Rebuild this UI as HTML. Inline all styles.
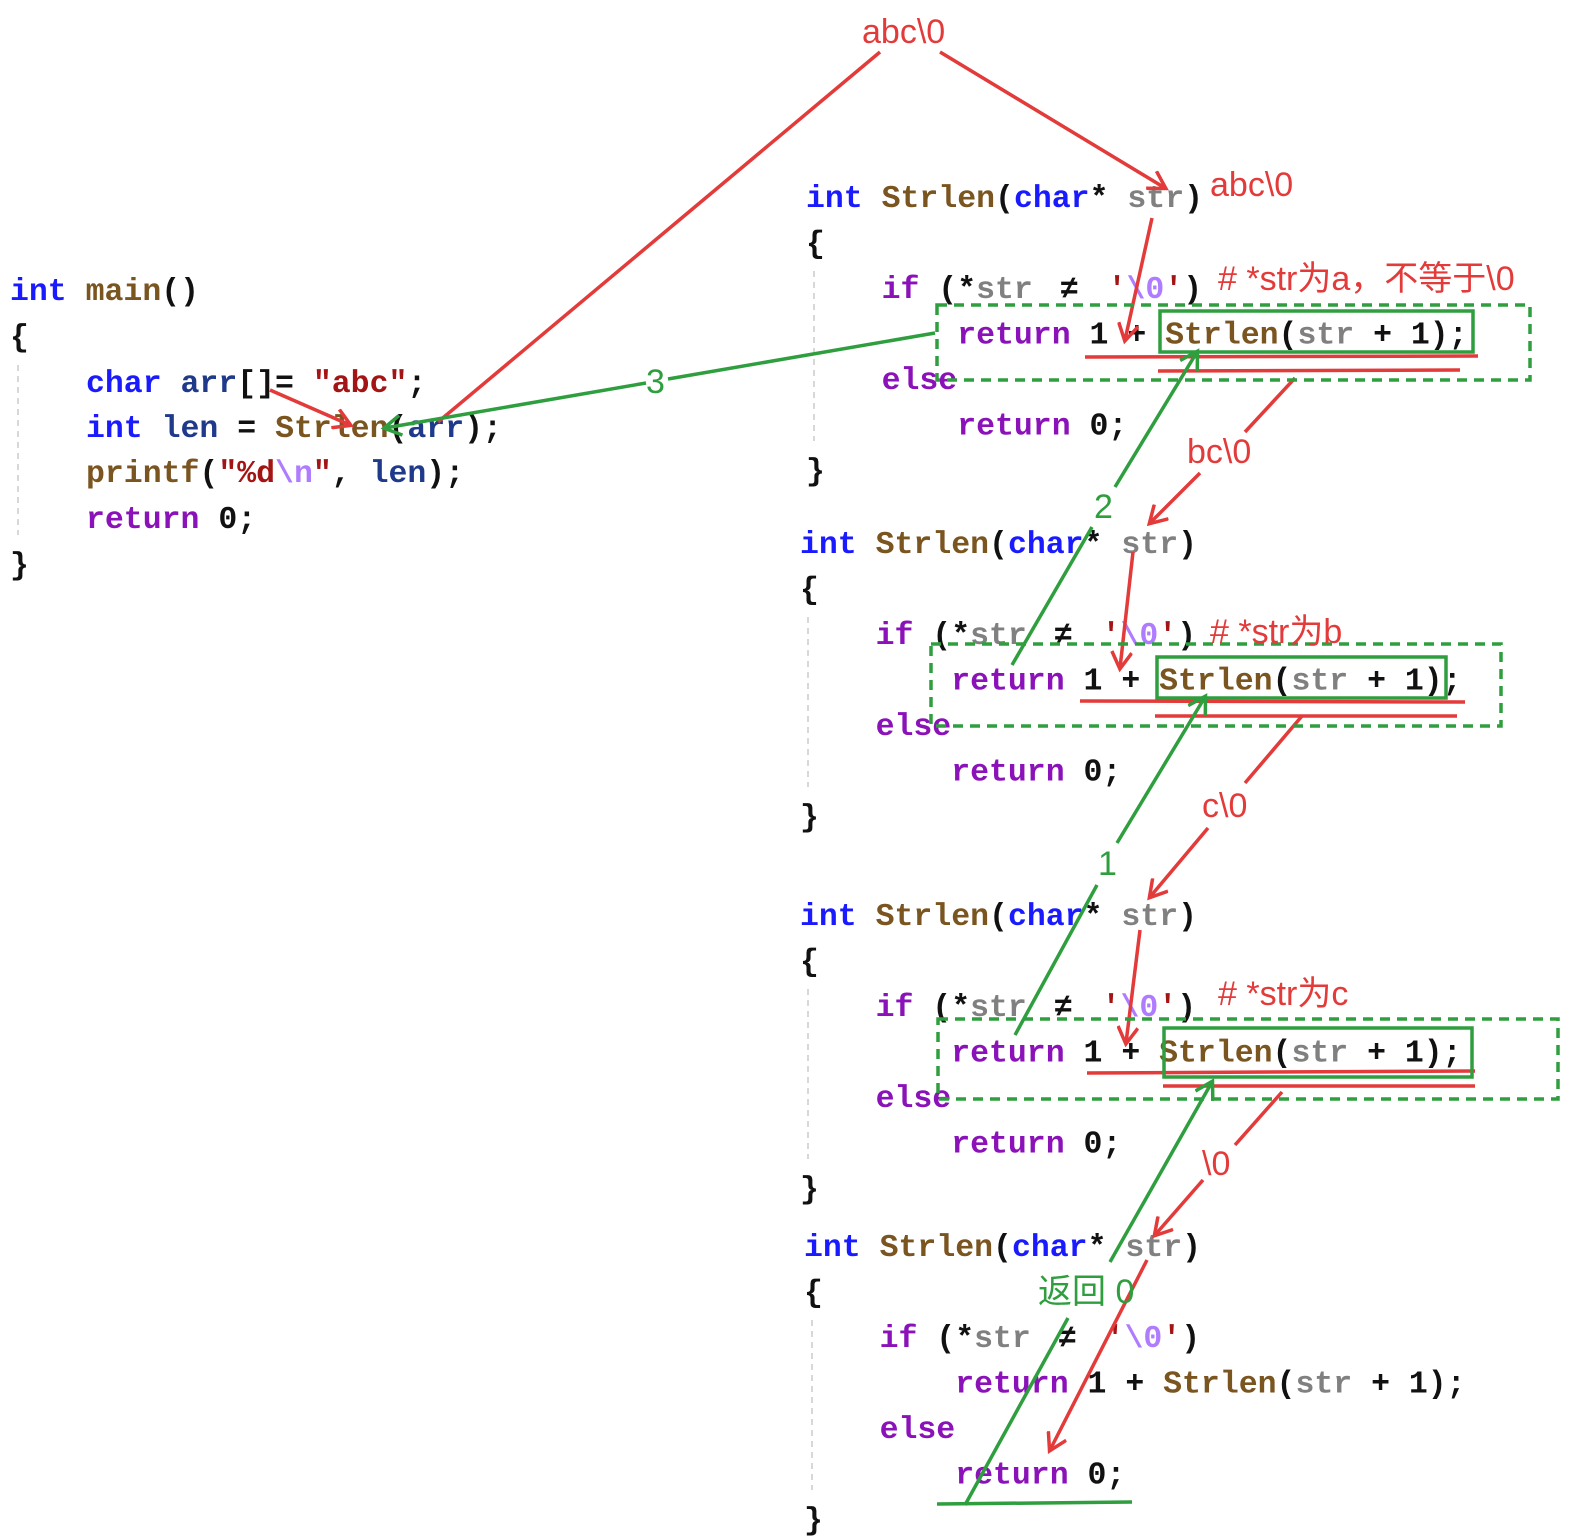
<!DOCTYPE html>
<html><head><meta charset="utf-8"><style>
html,body{margin:0;padding:0;background:#fff}
svg{display:block}
.c{font-family:"Liberation Mono",monospace;font-size:31.5px;font-weight:bold;fill:#111}
.k{fill:#1a1aff}.f{fill:#7a5520}.p{fill:#808080}.r{fill:#8a12b8}.s{fill:#a31515}.v{fill:#1f3a8a}.e{fill:#b07cff}
.a{font-family:"Liberation Sans","Noto Sans CJK SC",sans-serif;font-size:34px}
.red{fill:#e33a3a}.grn{fill:#2e9e3e}
</style></head><body>
<svg width="1569" height="1540" viewBox="0 0 1569 1540" xmlns="http://www.w3.org/2000/svg">
<defs>
<g id="blk">
  <text class="c" xml:space="preserve" x="0" y="11"><tspan class="k">int</tspan> <tspan class="f">Strlen</tspan>(<tspan class="k">char</tspan>* <tspan class="p">str</tspan>)</text>
  <text class="c" x="0" y="56.5">{</text>
  <text class="c" xml:space="preserve" x="75.6" y="102"><tspan class="r">if</tspan> (*<tspan class="p">str</tspan> <tspan dx="8">≠</tspan><tspan dx="10"> </tspan><tspan class="s">'</tspan><tspan class="e">\0</tspan><tspan class="s">'</tspan>)</text>
  <text class="c" xml:space="preserve" x="151.2" y="147.5"><tspan class="r">return</tspan> 1 + <tspan class="f">Strlen</tspan>(<tspan class="p">str</tspan> + 1);</text>
  <text class="c r" x="75.6" y="193">else</text>
  <text class="c" xml:space="preserve" x="151.2" y="238.5"><tspan class="r">return</tspan> 0;</text>
  <text class="c" x="0" y="284">}</text>
  <line x1="8" y1="75" x2="8" y2="245" stroke="#ccc" stroke-width="1.5" stroke-dasharray="6,5"/>
</g>
<marker id="ar" markerWidth="22" markerHeight="22" refX="17" refY="11" orient="auto" markerUnits="userSpaceOnUse"><path d="M1,1 L18,11 L1,21" fill="none" stroke="#e33a3a" stroke-width="3.5"/></marker>
<marker id="ag" markerWidth="22" markerHeight="22" refX="17" refY="11" orient="auto" markerUnits="userSpaceOnUse"><path d="M1,1 L18,11 L1,21" fill="none" stroke="#2e9e3e" stroke-width="3.5"/></marker>
</defs>

<!-- main -->
<text class="c" xml:space="preserve" x="10" y="300"><tspan class="k">int</tspan> <tspan class="f">main</tspan>()</text>
<text class="c" x="10" y="346">{</text>
<text class="c" xml:space="preserve" x="86" y="392"><tspan class="k">char</tspan> <tspan class="v">arr</tspan>[]= <tspan class="s">"abc"</tspan>;</text>
<text class="c" xml:space="preserve" x="86" y="437"><tspan class="k">int</tspan> <tspan class="v">len</tspan> = <tspan class="f">Strlen</tspan>(<tspan class="v">arr</tspan>);</text>
<text class="c" xml:space="preserve" x="86" y="482"><tspan class="f">printf</tspan>(<tspan class="s">"%d</tspan><tspan class="e">\n</tspan><tspan class="s">"</tspan>, <tspan class="v">len</tspan>);</text>
<text class="c" xml:space="preserve" x="86" y="528"><tspan class="r">return</tspan> 0;</text>
<text class="c" x="10" y="574">}</text>
<line x1="18" y1="365" x2="18" y2="535" stroke="#ccc" stroke-width="1.5" stroke-dasharray="6,5"/>

<use href="#blk" x="806" y="196"/>
<use href="#blk" x="800" y="542"/>
<use href="#blk" x="800" y="914"/>
<use href="#blk" x="804" y="1245"/>

<g stroke="#e33a3a" stroke-width="3.5" fill="none">
<line x1="880" y1="52" x2="438" y2="422"/>
<line x1="940" y1="52" x2="1165" y2="188" marker-end="url(#ar)"/>
<line x1="1152" y1="218" x2="1125" y2="340" marker-end="url(#ar)"/>
<line x1="270" y1="390" x2="350" y2="425" marker-end="url(#ar)"/>
<line x1="1085" y1="357" x2="1478" y2="356"/>
<line x1="1158" y1="371" x2="1460" y2="370"/>
<line x1="1295" y1="378" x2="1245" y2="432"/>
<line x1="1200" y1="473" x2="1150" y2="523" marker-end="url(#ar)"/>
<line x1="1133" y1="552" x2="1120" y2="668" marker-end="url(#ar)"/>
<line x1="1080" y1="701" x2="1465" y2="702"/>
<line x1="1155" y1="716" x2="1457" y2="716"/>
<line x1="1302" y1="716" x2="1245" y2="783"/>
<line x1="1208" y1="828" x2="1150" y2="897" marker-end="url(#ar)"/>
<line x1="1140" y1="930" x2="1126" y2="1043" marker-end="url(#ar)"/>
<line x1="1087" y1="1073" x2="1475" y2="1071"/>
<line x1="1163" y1="1086" x2="1475" y2="1086"/>
<line x1="1282" y1="1092" x2="1235" y2="1145"/>
<line x1="1203" y1="1180" x2="1155" y2="1235" marker-end="url(#ar)"/>
<line x1="1147" y1="1260" x2="1050" y2="1450" marker-end="url(#ar)"/>
</g>
<g stroke="#2e9e3e" stroke-width="3.5" fill="none">
<line x1="935" y1="333" x2="668" y2="379"/>
<line x1="646" y1="383" x2="385" y2="428" marker-end="url(#ag)"/>
<rect x="937" y="305" width="593" height="75" stroke-dasharray="10,7"/>
<rect x="1160" y="311" width="313" height="41"/>
<line x1="1012" y1="665" x2="1092" y2="527"/>
<line x1="1115" y1="487" x2="1197" y2="352" marker-end="url(#ag)"/>
<rect x="931" y="644" width="570" height="82" stroke-dasharray="10,7"/>
<rect x="1157" y="657" width="289" height="41"/>
<line x1="1015" y1="1035" x2="1097" y2="885"/>
<line x1="1117" y1="843" x2="1205" y2="697" marker-end="url(#ag)"/>
<rect x="938" y="1019" width="620" height="80" stroke-dasharray="10,7"/>
<rect x="1164" y="1028" width="308" height="49"/>
<line x1="965" y1="1505" x2="1068" y2="1318"/>
<line x1="1110" y1="1262" x2="1212" y2="1082" marker-end="url(#ag)"/>
<line x1="937" y1="1504" x2="1132" y2="1502"/>
</g>
<text class="a red" x="862" y="43">abc\0</text>
<text class="a red" x="1210" y="196">abc\0</text>
<text class="a red" x="1218" y="290">#  *str为a，不等于\0</text>
<text class="a red" x="1187" y="463">bc\0</text>
<text class="a red" x="1210" y="643"># *str为b</text>
<text class="a red" x="1202" y="817">c\0</text>
<text class="a red" x="1218" y="1005"># *str为c</text>
<text class="a red" x="1202" y="1175">\0</text>
<text class="a grn" x="646" y="393">3</text>
<text class="a grn" x="1094" y="518">2</text>
<text class="a grn" x="1098" y="875">1</text>
<text class="a grn" x="1038" y="1303">返回 0</text>
</svg>
</body></html>
